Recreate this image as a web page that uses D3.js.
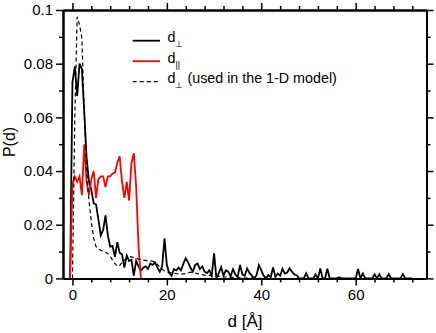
<!DOCTYPE html>
<html><head><meta charset="utf-8">
<script src="https://cdn.jsdelivr.net/npm/d3@7"></script>
<style>body{margin:0;background:#fff}svg{display:block}</style>
</head><body>
<svg id="c" width="436" height="333"></svg>
<script>
// d_perp (solid black), x from -0.5 step 0.5
const perpStart = -0.5, perpStep = 0.5;
const perpValues = [
 0, .073, .079, .068, .080, .078, .062, .045, .036, .033,
 .028, .0275, .022, .016, .018, .0235, .016, .0118, .012, .008,
 .0135, .0095, .009, .004, .0085, .0065, .007, .001, .0065, .0045,
 .003, .004, .0045, .0035, .0055, .005, .006, .004, .0025, .0045,
 .0149, .005, .002, .001, .0035, .003, .004, .003, .0055, .0075,
 .006, .004, .0025, .005, .0055, .0035, .0045, .0025, .002, .003,
 .001, .0093, 0, .002, .0042, .001, .003, .0025, .0008, .0034,
 .0015, .0005, .005, .0015, .001, .0037, .002, .001, 0, .0012,
 .005, .003, .001, 0, .0012, .0004, .0041, .0005, .0018, .001,
 .0036, .0018, .0022, .0038, .0025, .0015, .0012, 0, 0, 0,
 .0019, 0, 0, 0, .0015, 0, .0037, 0, 0, .0036,
 0, 0, 0, 0, .0004, 0, 0, 0, 0, 0,
 0, 0, .0035, 0, .0018, 0, 0, 0, 0, .0015,
 0, .0015, 0, 0, 0, .0016, 0, 0, 0, 0,
 0, .0016, 0, 0, 0, 0
];
// d_parallel (red), x from -0.5 step 0.5
const parStart = -0.5, parStep = 0.5;
const parValues = [
 0, .035, .038, .036, .038, .031, .050, .036, .031, .037,
 .040, .030, .037, .038, .038, .034, .038, .038, .039, .0395,
 .043, .0455, .036, .030, .036, .029, .043, .0466, .034, .012, 0
];
// d_perp used in the 1-D model (dashed)
const modelX = [0,0.5,1,1.5,2,2.5,3,3.5,4,4.5,5,5.5,6,6.5,7,7.5,8,8.5,9,9.5,10,10.5,11,11.5,12,12.5,13,14,15,16,17,17.5,18,18.5,19,19.5,20,21,22,23,24,25,26,27,28,29,30,32,34,36,38,40];
const modelY = [0,.060,.0975,.0945,.0895,.062,.040,.029,.021,.015,.0118,.011,.0105,.010,.0098,.0092,.0082,.0068,.0055,.0045,.0048,.006,.0068,.0075,.008,.008,.0078,.0072,.0068,.0066,.0064,.006,.0052,.0042,.0034,.0028,.0024,.0021,.0018,.0016,.0018,.0023,.002,.0015,.0012,.0011,.0009,.0006,.0004,.0002,.0001,0];

const xMajor = [0,20,40,60];
const xMinor = [4,8,12,16,24,28,32,36,44,48,52,56,64,68,72];
const yMajor = [0,0.02,0.04,0.06,0.08,0.1];
const yMinor = [0.01,0.03,0.05,0.07,0.09];
const yLabels = ["0","0.02","0.04","0.06","0.08","0.1"];

const svg = d3.select("#c");
const L=63, R=426.5, T=10, B=278.4;
const x = d3.scaleLinear().domain([-2,75]).range([L,R]);
const y = d3.scaleLinear().domain([0,0.1]).range([B,T]);

const font = "Liberation Sans, Arial, sans-serif";
const perp = perpValues.map((v,i)=>[perpStart+i*perpStep, v]);
const par = parValues.map((v,i)=>[parStart+i*parStep, v]);
const model = modelX.map((v,i)=>[v, modelY[i]]);
const line = d3.line().x(d=>x(d[0])).y(d=>y(d[1]));

const g = svg.append("g");
g.append("clipPath").attr("id","clip").append("rect").attr("x",L).attr("y",T-2).attr("width",R-L).attr("height",B-T+2);
const plot = g.append("g").attr("clip-path","url(#clip)");
plot.append("path").datum(perp).attr("d",line).attr("fill","none").attr("stroke","#000").attr("stroke-width",1.8);
plot.append("path").datum(par).attr("d",line).attr("fill","none").attr("stroke","#f00").attr("stroke-width",1.8);
plot.append("path").datum(model).attr("d",line).attr("fill","none").attr("stroke","#000").attr("stroke-width",1.2).attr("stroke-dasharray","4,3");

function styleAxis(sel){
  sel.selectAll("path.domain").attr("stroke","#000").attr("stroke-width",2);
  sel.selectAll(".tick line").attr("stroke","#000").attr("stroke-width",1.5);
  sel.selectAll("text").attr("font-family",font).attr("font-size",15).attr("fill","#000");
}
// bottom
const bMaj = g.append("g").attr("transform",`translate(0,${B})`).call(d3.axisBottom(x).tickValues(xMajor).tickSize(7).tickSizeOuter(0).tickPadding(4).tickFormat(d3.format("d")));
styleAxis(bMaj);
const bMin = g.append("g").attr("transform",`translate(0,${B})`).call(d3.axisBottom(x).tickValues(xMinor).tickSize(4).tickSizeOuter(0).tickFormat(""));
styleAxis(bMin);
// top
const tMaj = g.append("g").attr("transform",`translate(0,${T})`).call(d3.axisTop(x).tickValues(xMajor).tickSize(7).tickSizeOuter(0).tickFormat(""));
styleAxis(tMaj);
const tMin = g.append("g").attr("transform",`translate(0,${T})`).call(d3.axisTop(x).tickValues(xMinor).tickSize(4).tickSizeOuter(0).tickFormat(""));
styleAxis(tMin);
// left
const lMaj = g.append("g").attr("transform",`translate(${L},0)`).call(d3.axisLeft(y).tickValues(yMajor).tickSize(7).tickSizeOuter(0).tickPadding(3).tickFormat((d,i)=>yLabels[i]));
styleAxis(lMaj);
const lMin = g.append("g").attr("transform",`translate(${L},0)`).call(d3.axisLeft(y).tickValues(yMinor).tickSize(4).tickSizeOuter(0).tickFormat(""));
styleAxis(lMin);
// right
const rMaj = g.append("g").attr("transform",`translate(${R},0)`).call(d3.axisRight(y).tickValues(yMajor).tickSize(7).tickSizeOuter(0).tickFormat(""));
styleAxis(rMaj);
const rMin = g.append("g").attr("transform",`translate(${R},0)`).call(d3.axisRight(y).tickValues(yMinor).tickSize(4).tickSizeOuter(0).tickFormat(""));
styleAxis(rMin);

// axis titles
svg.append("text").attr("x",245).attr("y",327).attr("text-anchor","middle").attr("font-family",font).attr("font-size",17).text("d [Å]");
svg.append("text").attr("transform","translate(15,142) rotate(-90)").attr("text-anchor","middle").attr("font-family",font).attr("font-size",16).text("P(d)");

// legend
const legend = [
  {sub:"⊥", rest:"", color:"#000", dash:null, w:1.8},
  {sub:"||", rest:"", color:"#f00", dash:null, w:1.8},
  {sub:"⊥", rest:" (used in the 1-D model)", color:"#000", dash:"4,3", w:1.2}
];
const lg = svg.append("g");
legend.forEach((d,i)=>{
  const yy = 40.7 + i*20.5;
  lg.append("line").attr("x1",132.7).attr("x2",160).attr("y1",yy).attr("y2",yy).attr("stroke",d.color).attr("stroke-width",d.w).attr("stroke-dasharray",d.dash);
  const t = lg.append("text").attr("x",167.5).attr("y",yy+1.5).attr("font-family",font).attr("font-size",14.3);
  t.append("tspan").text("d");
  t.append("tspan").attr("font-size",9).attr("dy",5).text(d.sub);
  if(d.rest) t.append("tspan").attr("dy",-5).attr("font-size",14.3).text(d.rest);
});
</script>
</body></html>
